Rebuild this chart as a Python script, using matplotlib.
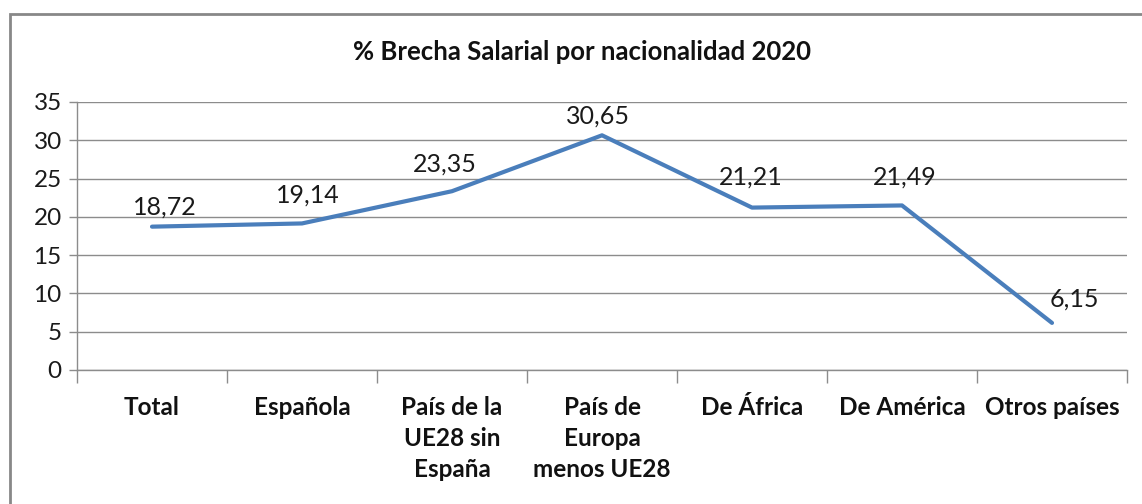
import matplotlib
matplotlib.use("Agg")
import matplotlib.pyplot as plt
from matplotlib.patches import Rectangle

plt.rcParams['font.family'] = ['Lato', 'DejaVu Sans']

# data
categorias = ["Total", "Española", "País de la\nUE28 sin\nEspaña", "País de\nEuropa\nmenos UE28",
              "De África", "De América", "Otros países"]
brecha = [18.72, 19.14, 23.35, 30.65, 21.21, 21.49, 6.15]
yticks = [0, 5, 10, 15, 20, 25, 30, 35]
titulo = "% Brecha Salarial por nacionalidad 2020"

# label nudges (points) to mimic Excel's placement
dx = [9, 4, -5, -3, -1, 2, 16]
dy = [6, 12.5, 11, 5.5, 14, 12, 9]

W, H = 1142, 504
fig = plt.figure(figsize=(W / 100, H / 100), dpi=100)
ax = fig.add_axes([77 / W, 1 - 370 / H, (1127 - 77) / W, (370 - 102) / H])

gris = "#8c8c8c"
x = list(range(len(brecha)))
ax.plot(x, brecha, color="#4a7ebb", lw=3, solid_capstyle="round", zorder=3)

for xi, v, ox, oy in zip(x, brecha, dx, dy):
    ax.annotate(f"{v:.2f}".replace(".", ","), (xi, v), xytext=(ox, oy), textcoords="offset points",
                ha="center", va="bottom", fontsize=18, color="#1a1a1a")

ax.set_xlim(-0.5, len(brecha) - 0.5)
ax.set_ylim(0, 35)
ax.set_yticks(yticks)
ax.set_yticklabels([str(t) for t in yticks], fontsize=17.5, color="#1a1a1a")
ax.yaxis.grid(True, color=gris, lw=1)
ax.set_axisbelow(True)

ax.set_xticks(x)
ax.set_xticklabels(categorias, fontsize=17.5, fontweight="bold", color="#111111", linespacing=1.4, va="top")
ax.tick_params(axis="x", which="major", length=0, pad=19)
ax.set_xticks([i - 0.5 for i in range(len(brecha) + 1)], minor=True)
ax.tick_params(axis="x", which="minor", length=9, color=gris, width=1)
ax.tick_params(axis="y", length=6, color=gris, width=1, pad=5)

for s in ["top", "right"]:
    ax.spines[s].set_visible(False)
for s in ["left", "bottom"]:
    ax.spines[s].set_color(gris)
    ax.spines[s].set_linewidth(1)

fig.text(582 / W, 1 - 52 / H, titulo, ha="center", va="center", fontsize=18.5, fontweight="bold", color="#111111")

# chart border
fig.patches.append(Rectangle((10 / W, -0.1), 1.2, 1 - 14 / H + 0.1, transform=fig.transFigure,
                             fill=False, edgecolor="#888888", lw=2))

fig.savefig("out.png", dpi=100, facecolor="white")
